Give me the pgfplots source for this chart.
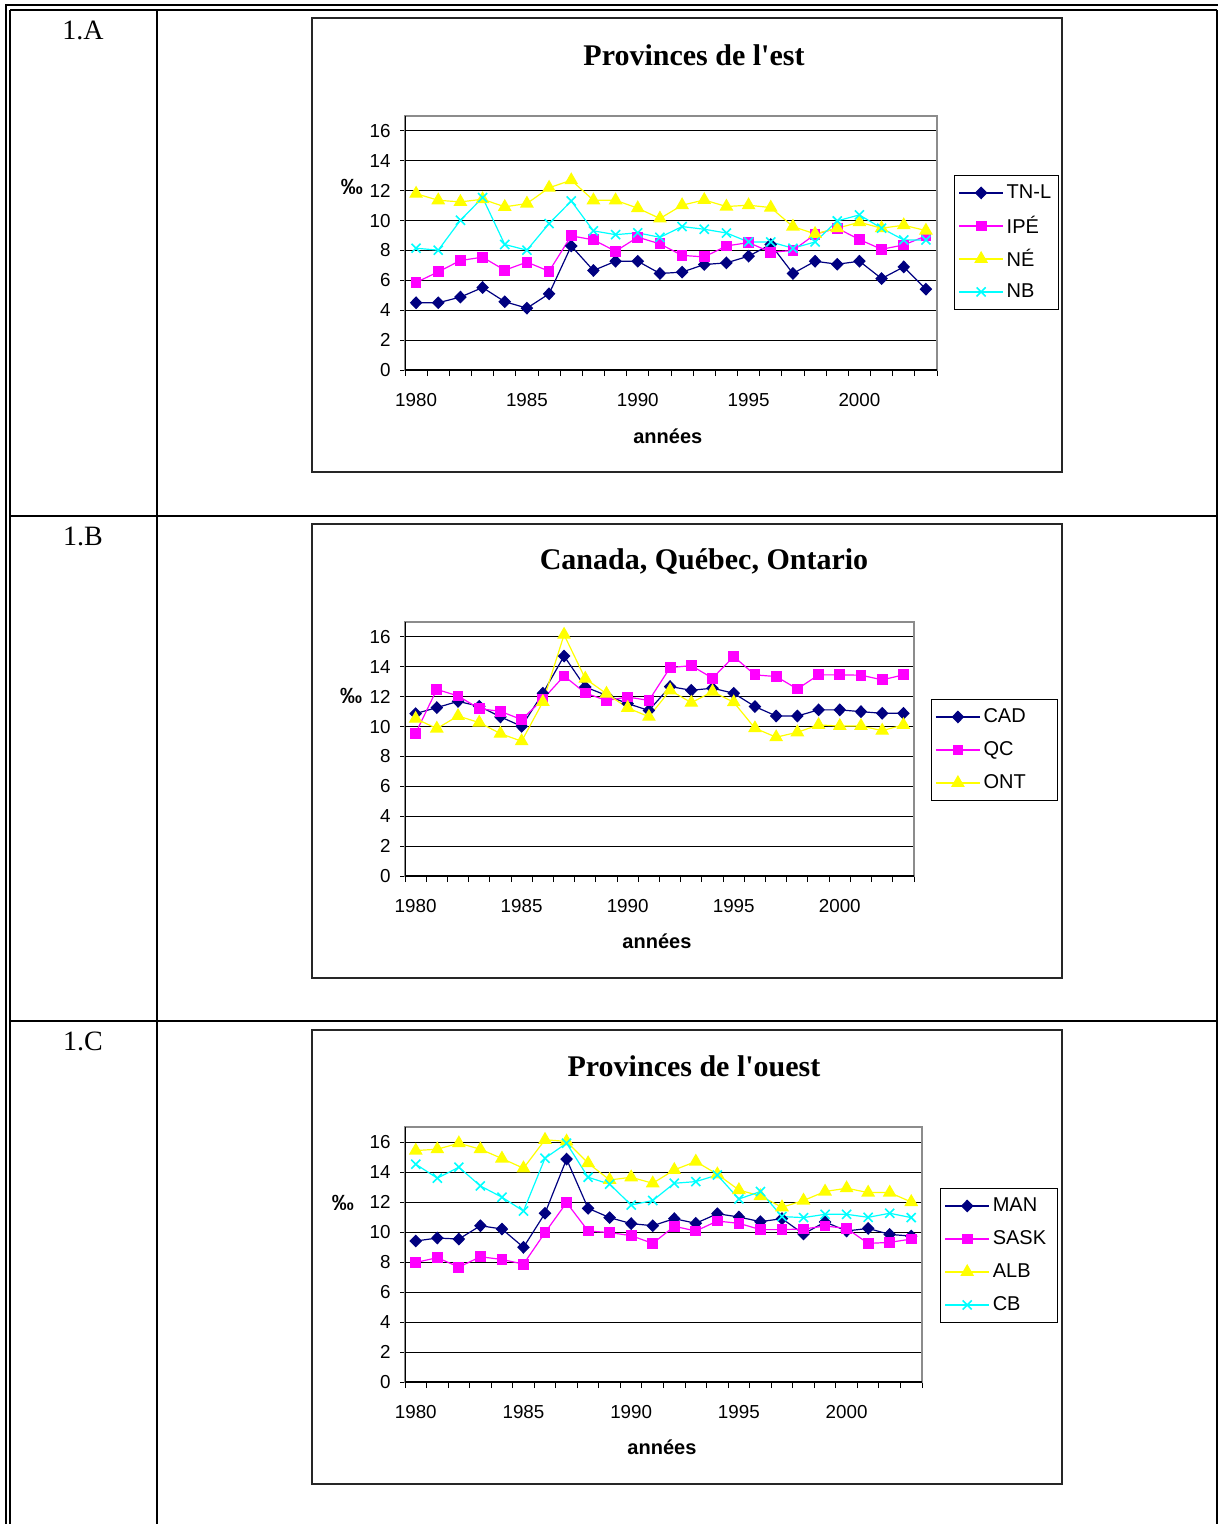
\documentclass[border=0pt]{standalone}
\usepackage{fontspec}
\setmainfont{Liberation Serif}
\setsansfont{Liberation Sans}
\usepackage{pgfplots}
\usepackage{pgfplotstable}
\pgfplotsset{compat=1.18}

\definecolor{serA}{RGB}{0,0,128}
\definecolor{serB}{RGB}{255,0,255}
\definecolor{serC}{RGB}{255,255,0}
\definecolor{serD}{RGB}{0,255,255}

% Taux (pour mille) par province, 1980-2003
\pgfplotstableread{
year TNL  IPE  NE    NB
1980 4.50 5.86 11.80 8.15
1981 4.50 6.57 11.36 8.02
1982 4.88 7.33 11.25 10.02
1983 5.52 7.55 11.43 11.54
1984 4.57 6.68 10.92 8.40
1985 4.14 7.22 11.14 8.02
1986 5.10 6.61 12.20 9.80
1987 8.30 8.98 12.70 11.31
1988 6.66 8.71 11.36 9.31
1989 7.28 7.95 11.36 9.06
1990 7.28 8.89 10.83 9.18
1991 6.46 8.44 10.14 8.88
1992 6.55 7.67 11.03 9.60
1993 7.06 7.57 11.38 9.42
1994 7.17 8.30 10.94 9.17
1995 7.62 8.53 11.03 8.57
1996 8.40 7.88 10.87 8.57
1997 6.46 8.00 9.60 8.15
1998 7.28 9.08 9.11 8.57
1999 7.08 9.49 9.49 9.98
2000 7.28 8.73 9.89 10.38
2001 6.12 8.08 9.49 9.49
2002 6.90 8.37 9.69 8.70
2003 5.41 8.97 9.33 8.70
}\est

\pgfplotstableread{
year CAD   QC    ONT
1980 10.87 9.55  10.53
1981 11.27 12.49 9.87
1982 11.69 12.05 10.71
1983 11.36 11.20 10.27
1984 10.65 11.02 9.53
1985 10.02 10.47 9.02
1986 12.23 11.83 11.65
1987 14.72 13.39 16.15
1988 12.65 12.25 13.21
1989 12.09 11.74 12.20
1990 11.54 11.98 11.25
1991 11.08 11.75 10.66
1992 12.68 13.95 12.43
1993 12.43 14.08 11.60
1994 12.57 13.24 12.34
1995 12.23 14.69 11.63
1996 11.34 13.46 9.89
1997 10.71 13.35 9.29
1998 10.71 12.52 9.62
1999 11.12 13.46 10.11
2000 11.12 13.46 10.04
2001 11.00 13.44 10.04
2002 10.89 13.13 9.73
2003 10.89 13.46 10.11
}\centre

\pgfplotstableread{
year MAN   SASK  ALB   CB
1980 9.40  7.97  15.43 14.52
1981 9.60  8.29  15.52 13.59
1982 9.53  7.66  15.92 14.32
1983 10.42 8.35  15.52 13.07
1984 10.20 8.17  14.90 12.32
1985 8.98  7.86  14.25 11.40
1986 11.25 9.96  16.15 14.92
1987 14.86 11.96 16.04 15.92
1988 11.58 10.07 14.59 13.65
1989 10.96 9.96  13.47 13.19
1990 10.56 9.76  13.65 11.80
1991 10.42 9.24  13.25 12.10
1992 10.89 10.38 14.14 13.25
1993 10.58 10.07 14.70 13.36
1994 11.22 10.73 13.85 13.80
1995 11.00 10.58 12.80 12.20
1996 10.69 10.16 12.40 12.70
1997 10.89 10.16 11.65 11.03
1998 9.87  10.20 12.10 10.96
1999 10.67 10.40 12.70 11.18
2000 10.07 10.24 12.92 11.18
2001 10.24 9.24  12.63 10.98
2002 9.84  9.31  12.63 11.25
2003 9.73  9.53  12.00 10.96
}\ouest

\tikzset{boxaxes/.style={black, line width=0.6pt}}

\pgfplotsset{
  rateaxis/.style={
    scale only axis,
    anchor=south west,
    height=127pt,
    xmin=1979.5, xmax=2003.5,
    ymin=0, ymax=17,
    xtick={1980,1985,...,2000},
    minor xtick={1979.5,1980.5,...,2003.5},
    ytick={0,2,...,16},
    tick pos=left,
    tick align=outside,
    major tick length=2.5pt,
    minor tick length=3pt,
    every major x tick/.append style={draw=none},
    tick style={black, line width=0.5pt},
    ymajorgrids,
    major grid style={black, line width=0.5pt},
    axis line style={draw=black!45, line width=0.6pt},
    /pgf/number format/assume math mode=true,
    /pgf/number format/1000 sep={},
    tick label style={font=\sffamily\fontsize{9.4}{11}\selectfont},
    xticklabel style={yshift=-5.5pt},
    yticklabel style={xshift=-1.2pt},
    xlabel={années},
    xlabel style={font=\sffamily\bfseries\fontsize{10}{12}\selectfont},
    ylabel={‰},
    ylabel style={font=\sffamily\bfseries\fontsize{11}{13}\selectfont, rotate=-90},
    legend cell align=left,
    legend style={draw=black, line width=0.5pt, fill=white,
      inner xsep=2pt, inner ysep=0.5pt,
      font=\sffamily\fontsize{10}{12}\selectfont,
      nodes={inner xsep=1.5pt, inner ysep=0pt, minimum height=16.5pt},
      anchor=north west},
    legend image code/.code={
      \draw[mark repeat=2,mark phase=2,##1] plot coordinates {(0pt,0pt) (11pt,0pt) (22pt,0pt)};
    },
  },
  s1/.style={draw=serA, line width=0.6pt, mark=diamond*, mark size=2.8pt,
    mark options={solid, fill=serA, draw=serA, xscale=1.3}},
  s2/.style={draw=serB, line width=0.6pt, mark=square*, mark size=2.4pt,
    mark options={solid, fill=serB, draw=serB}},
  s3/.style={draw=serC, line width=0.6pt, mark=triangle*, mark size=3.4pt,
    mark options={solid, fill=serC, draw=serC}},
  s4/.style={draw=serD, line width=0.6pt, mark=x, mark size=3.2pt,
    mark options={solid, draw=serD, line width=0.8pt}},
}

\begin{document}
\begin{tikzpicture}[x=0.5pt, y=-0.5pt]
\useasboundingbox (0,0) rectangle (1219,1524);

% cadre du tableau
\draw[black, line width=0.75pt] (5,5) -- (1218,5);
\draw[black, line width=0.75pt] (10,10) -- (1216.5,10);
\draw[black, line width=0.75pt] (6,5) -- (6,1524);
\draw[black, line width=0.75pt] (10,10) -- (10,1524);
\draw[black, line width=1pt] (1216.5,10) -- (1216.5,1524);
\draw[black, line width=1pt] (157,10) -- (157,1524);
\draw[black, line width=1pt] (10,515.5) -- (1216.5,515.5);
\draw[black, line width=1pt] (10,1021) -- (1216.5,1021);

% numéros des figures
\node[font=\fontsize{14}{16}\selectfont] at (83,30) {1.A};
\node[font=\fontsize{14}{16}\selectfont] at (83,536) {1.B};
\node[font=\fontsize{14}{16}\selectfont] at (83,1041) {1.C};

% cadres des graphiques
\draw[black!85, line width=0.9pt] (312,18) rectangle (1062,472);
\draw[black!85, line width=0.9pt] (312,524) rectangle (1062,978);
\draw[black!85, line width=0.9pt] (312,1030) rectangle (1062,1484);

% titres
\node[font=\bfseries\fontsize{15}{18}\selectfont] at (694,55) {Provinces de l\textquotesingle est};
\node[font=\bfseries\fontsize{15}{18}\selectfont] at (704,562) {Canada, Québec, Ontario};
\node[font=\bfseries\fontsize{15}{18}\selectfont] at (694,1066) {Provinces de l\textquotesingle ouest};

% 1.A
\begin{axis}[rateaxis, at={(202.5pt,-185pt)}, width=266pt,
  xlabel style={at={(axis description cs:0.494,-0.26)}, anchor=center},
  ylabel style={at={(axis description cs:-0.1,0.72)}, anchor=center},
  legend style={at={(1.032,0.768)}}]
\addplot[s1] table[x=year, y=TNL] {\est};
\addplot[s2] table[x=year, y=IPE] {\est};
\addplot[s3] table[x=year, y=NE] {\est};
\addplot[s4] table[x=year, y=NB] {\est};
\legend{\makebox[22.5pt][l]{TN-L}, \makebox[22.5pt][l]{IPÉ}, \makebox[22.5pt][l]{NÉ}, \makebox[22.5pt][l]{NB}}
\draw[boxaxes] (rel axis cs:0,1) -- (rel axis cs:0,0) -- (rel axis cs:1,0);
\end{axis}

% 1.B
\begin{axis}[rateaxis, at={(202.5pt,-438pt)}, width=254.5pt,
  xlabel style={at={(axis description cs:0.495,-0.256)}, anchor=center},
  ylabel style={at={(axis description cs:-0.106,0.709)}, anchor=center},
  legend style={at={(1.033,0.697)}}]
\addplot[s1] table[x=year, y=CAD] {\centre};
\addplot[s2] table[x=year, y=QC] {\centre};
\addplot[s3] table[x=year, y=ONT] {\centre};
\legend{\makebox[33.5pt][l]{CAD}, \makebox[33.5pt][l]{QC}, \makebox[33.5pt][l]{ONT}}
\draw[boxaxes] (rel axis cs:0,1) -- (rel axis cs:0,0) -- (rel axis cs:1,0);
\end{axis}

% 1.C
\begin{axis}[rateaxis, at={(202.5pt,-691pt)}, width=258.5pt, height=127.5pt,
  xlabel style={at={(axis description cs:0.497,-0.255)}, anchor=center},
  ylabel style={at={(axis description cs:-0.12,0.702)}, anchor=center},
  legend style={at={(1.035,0.761)}}]
\addplot[s1] table[x=year, y=MAN] {\ouest};
\addplot[s2] table[x=year, y=SASK] {\ouest};
\addplot[s3] table[x=year, y=ALB] {\ouest};
\addplot[s4] table[x=year, y=CB] {\ouest};
\legend{\makebox[29pt][l]{MAN}, \makebox[29pt][l]{SASK}, \makebox[29pt][l]{ALB}, \makebox[29pt][l]{CB}}
\draw[boxaxes] (rel axis cs:0,1) -- (rel axis cs:0,0) -- (rel axis cs:1,0);
\end{axis}
\end{tikzpicture}
\end{document}
